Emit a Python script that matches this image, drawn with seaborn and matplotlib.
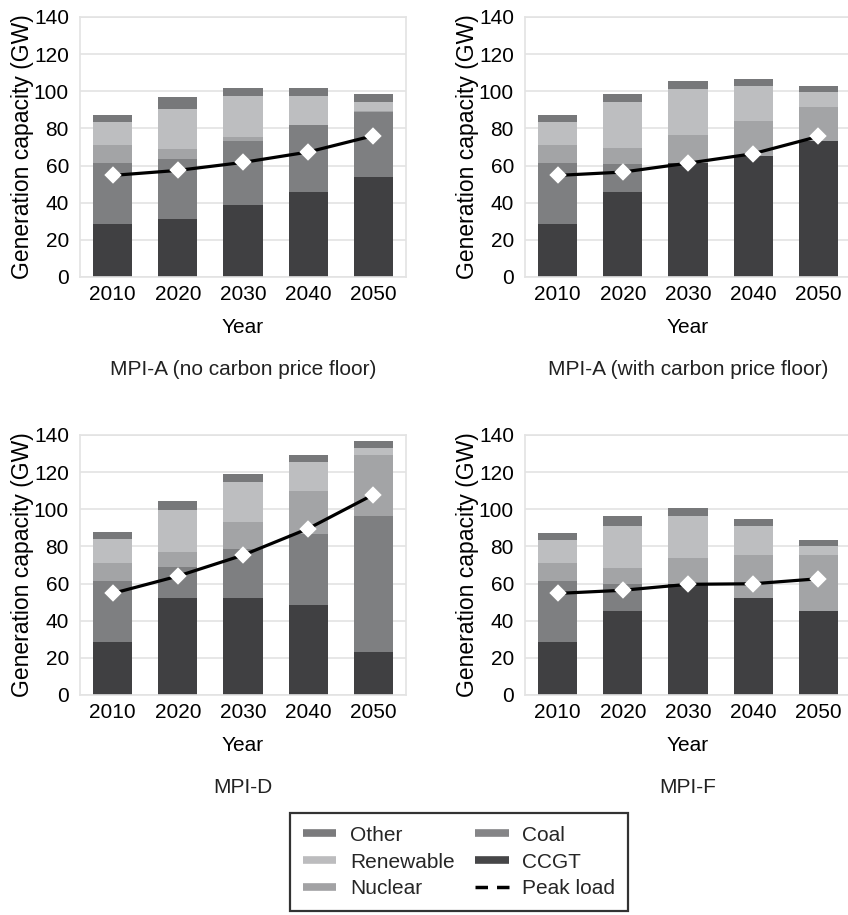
import numpy as np
import pandas as pd

import matplotlib.pyplot as plt
from matplotlib.lines import Line2D

import seaborn as sns

# capacities in GW
YEARS = ['2010', '2020', '2030', '2040', '2050']
TECHS = ['CCGT', 'Coal', 'Nuclear', 'Renewable', 'Other']
COLORS = {'CCGT': '#404042', 'Coal': '#7e7f81', 'Nuclear': '#a3a4a6',
          'Renewable': '#bdbec0', 'Other': '#77787a'}

TITLES = ['MPI-A (no carbon price floor)', 'MPI-A (with carbon price floor)',
          'MPI-D', 'MPI-F']

ccgt = [[28.5, 31.2, 38.7, 45.9, 53.8],
        [28.5, 45.7, 61.3, 65.3, 73.0],
        [28.8, 52.1, 52.1, 48.3, 22.9],
        [28.5, 45.3, 59.6, 52.2, 45.3]]
coal = [[32.8, 32.3, 34.7, 35.9, 34.8],
        [32.8, 15.3, 0.0, 0.0, 0.0],
        [32.6, 16.8, 26.3, 38.6, 73.3],
        [32.8, 14.3, 0.0, 0.0, 0.0]]
nuclear = [[9.6, 5.6, 1.8, 0.0, 1.0],
           [9.6, 8.6, 15.3, 18.5, 18.3],
           [9.8, 8.2, 14.6, 23.1, 33.1],
           [9.6, 8.9, 14.1, 23.3, 30.2]]
renewable = [[12.5, 21.5, 22.0, 15.4, 4.4],
             [12.5, 24.4, 24.6, 19.2, 8.1],
             [12.9, 22.4, 21.7, 15.2, 3.6],
             [12.5, 22.4, 22.5, 15.4, 4.5]]
other = [[4.0, 6.3, 4.5, 4.5, 4.5],
         [4.0, 4.5, 4.1, 3.5, 3.7],
         [3.6, 5.2, 4.3, 4.1, 4.1],
         [4.0, 5.3, 4.3, 3.9, 3.2]]
peak_load = [[54.7, 57.4, 61.7, 67.3, 76.1],
             [54.7, 56.5, 61.3, 66.4, 75.7],
             [54.7, 64.0, 75.3, 89.6, 107.9],
             [54.7, 56.4, 59.6, 59.9, 62.6]]

W, H = 848, 915
AX_POS = [(80, 17), (525, 17), (80, 435), (525, 435)]
AX_W, AX_H = 326, 260
FS = 15


def draw_panel(ax, i):
    df = pd.DataFrame({'Year': YEARS, 'CCGT': ccgt[i], 'Coal': coal[i],
                       'Nuclear': nuclear[i], 'Renewable': renewable[i],
                       'Other': other[i]})
    cum = df[TECHS].cumsum(axis=1)
    # stacked bars: draw the cumulative totals from the top layer down
    for tech in TECHS[::-1]:
        sns.barplot(x=df['Year'], y=cum[tech], color=COLORS[tech],
                    width=0.6, saturation=1, linewidth=0, ax=ax, zorder=2)
    sns.pointplot(x=df['Year'], y=peak_load[i], color='black', markers='D',
                  markersize=7.5, linewidth=2.3, ax=ax, zorder=4)
    for ln in ax.lines:
        if ln.get_marker() == 'D':
            ln.set_markerfacecolor('white')
            ln.set_markeredgecolor('white')

    ax.set_ylim(0, 140)
    ax.set_yticks(range(0, 141, 20))
    ax.set_xlim(-0.5, 4.5)
    ax.grid(axis='y', color='#e3e3e3', linewidth=1.2, zorder=0)
    ax.set_axisbelow(True)
    for s in ax.spines.values():
        s.set_color('#e3e3e3')
        s.set_linewidth(1.2)
    ax.tick_params(length=0, labelsize=FS, colors='black')
    ax.tick_params(axis='x', pad=6)
    ax.tick_params(axis='y', pad=8)
    ax.set_xlabel('Year', fontsize=FS, color='black')
    ax.set_ylabel('Generation capacity (GW)', fontsize=16.5, color='black')
    ax.xaxis.set_label_coords(0.5, -0.158)
    ax.yaxis.set_label_coords(-0.142, 0.5)
    ax.text(0.5, -0.354, TITLES[i], transform=ax.transAxes, ha='center',
            va='center', fontsize=FS, color='#222222')


def main():
    sns.set_theme(style='white')
    plt.rcParams['font.family'] = ['Liberation Sans', 'DejaVu Sans']
    fig = plt.figure(figsize=(W / 100, H / 100), dpi=100)
    for i, (x0, y0) in enumerate(AX_POS):
        ax = fig.add_axes([x0 / W, 1 - (y0 + AX_H) / H, AX_W / W, AX_H / H])
        draw_panel(ax, i)

    handles = [
        Line2D([], [], color='#7b7b7d', lw=5.5, solid_capstyle='butt'),
        Line2D([], [], color='#bcbcbe', lw=5.5, solid_capstyle='butt'),
        Line2D([], [], color='#a2a2a4', lw=5.5, solid_capstyle='butt'),
        Line2D([], [], color='#858587', lw=5.5, solid_capstyle='butt'),
        Line2D([], [], color='#464648', lw=5.5, solid_capstyle='butt'),
        Line2D([], [], color='black', lw=2.5, dashes=(3.6, 2.6),
               dash_capstyle='butt'),
    ]
    labels = ['Other', 'Renewable', 'Nuclear', 'Coal', 'CCGT', 'Peak load']
    leg = fig.legend(handles, labels, ncol=2, loc='center',
                     bbox_to_anchor=(459 / W, 1 - 862 / H), fontsize=FS,
                     frameon=True, fancybox=False, handlelength=1.6,
                     labelspacing=0.38, columnspacing=1.0, handletextpad=0.65,
                     borderpad=0.62)
    leg.get_frame().set_edgecolor('black')
    leg.get_frame().set_linewidth(1.6)
    fig.savefig('out.png', dpi=100)


if __name__ == '__main__':
    main()
